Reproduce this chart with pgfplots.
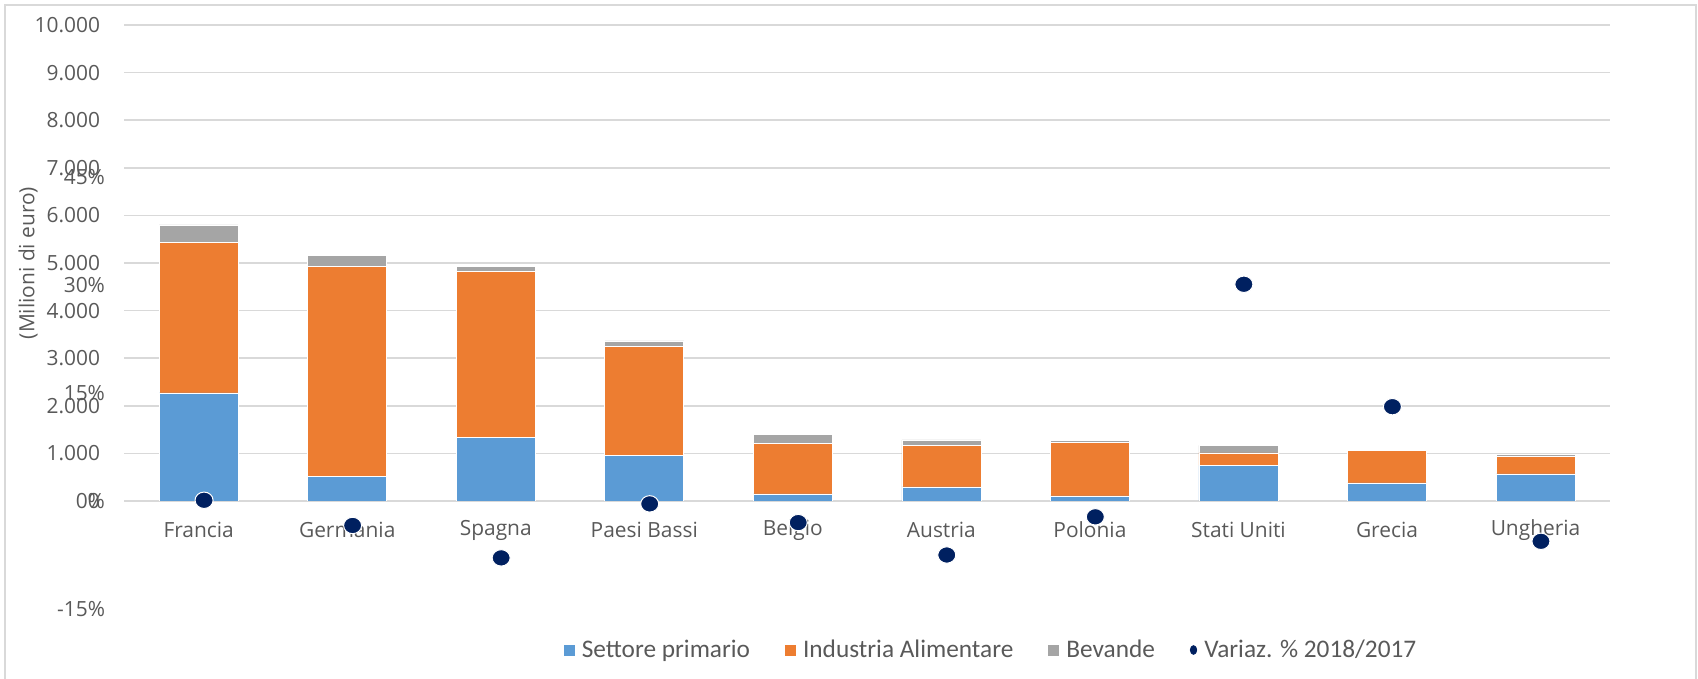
\documentclass[border=0pt]{standalone}
\usepackage{pgfplots}
\pgfplotsset{compat=1.18}
\usepackage{fontspec}
\setmainfont{Open Sans}
\newfontfamily\legfont{Carlito}

\definecolor{cBlue}{HTML}{5B9BD5}
\definecolor{cOrange}{HTML}{ED7D31}
\definecolor{cGray}{HTML}{A5A5A5}
\definecolor{cNavy}{HTML}{002060}
\definecolor{cGrid}{HTML}{D9D9D9}
\definecolor{cLabel}{HTML}{595959}
\definecolor{cFrame}{HTML}{D9D9D9}

% export values (millions of euro) by destination country
\pgfplotstableread{
x primario industria bevande
0 2270 3160 370
1  510 4425 222
2 1340 3490 105
3  965 2285 113
4  150 1060 190
5  295  865 125
6  105 1130  40
7  750  260 160
8  380  675  35
9  570  370  40
}\exportdata

% year-on-year change, percent
\pgfplotstableread{
x var
0   0.1
1  -3.4
2  -7.9
3  -0.4
4  -3.0
5  -7.5
6  -2.2
7  30.1
8  13.1
9  -5.6
}\vardata

\begin{document}
\begin{tikzpicture}
\useasboundingbox (0,0) rectangle (849bp,339.5bp);
\draw[cFrame, line width=1bp] (2.5bp,-2bp) -- (2.5bp,336.8bp) -- (847.8bp,336.8bp) -- (847.8bp,-2bp);

\begin{axis}[
  at={(62.2bp,89bp)}, anchor=south west,
  scale only axis, width=742.7bp, height=238bp,
  xmin=-0.5, xmax=9.5, ymin=0, ymax=10000,
  scaled y ticks=false,
  ybar stacked, bar width=39.5bp,
  axis line style={draw=none},
  tick style={draw=none},
  ymajorgrids, grid style={cGrid, line width=0.8bp},
  xtick={0,...,9},
  xticklabels={Francia,Germania,Spagna,Paesi Bassi,Belgio,Austria,Polonia,Stati Uniti,Grecia,Ungheria},
  ytick={0,1000,...,10000},
  yticklabels={0,1.000,2.000,3.000,4.000,5.000,6.000,7.000,8.000,9.000,10.000},
  xticklabel style={anchor=center, yshift=-14.5bp, font=\fontsize{10.5}{12}\selectfont, text=cLabel},
  yticklabel style={anchor=east, xshift=-8.7bp, font=\fontsize{10.5}{12}\selectfont, text=cLabel},
]
\addplot[fill=cBlue, draw=white, line width=0.3bp] table[x=x, y=primario] {\exportdata};
\addplot[fill=cOrange, draw=white, line width=0.3bp] table[x=x, y=industria] {\exportdata};
\addplot[fill=cGray, draw=white, line width=0.3bp] table[x=x, y=bevande] {\exportdata};
\end{axis}

\begin{axis}[
  at={(64.9bp,35bp)}, anchor=south west,
  scale only axis, width=742.7bp, height=292bp,
  xmin=-0.5, xmax=9.5, ymin=-15, ymax=66.11,
  axis line style={draw=none},
  tick style={draw=none},
  xtick=\empty,
  ytick={-15,0,15,30,45},
  yticklabels={-15\%,0\%,15\%,30\%,45\%},
  yticklabel style={anchor=east, xshift=-8.9bp, font=\fontsize{10.5}{12}\selectfont, text=cLabel},
  clip=false,
  legend columns=4,
  legend style={draw=none, fill=none, at={(0.5805,-0.0702)}, anchor=center,
    font=\legfont\fontsize{12.7}{14}\selectfont, text=cLabel,
    /tikz/every odd column/.append style={column sep=1.6bp},
    /tikz/every even column/.append style={column sep=15.5bp}},
  legend cell align=left,
]
\addlegendimage{legend image code/.code={\fill[cBlue] (0bp,-2.5bp) rectangle (5bp,2.5bp);}}
\addlegendentry{Settore primario}
\addlegendimage{legend image code/.code={\fill[cOrange] (0bp,-2.5bp) rectangle (5bp,2.5bp);}}
\addlegendentry{Industria Alimentare}
\addlegendimage{legend image code/.code={\fill[cGray] (0bp,-2.5bp) rectangle (5bp,2.5bp);}}
\addlegendentry{Bevande}
\addplot[only marks, mark=*, mark size=4.1bp,
  mark options={fill=cNavy, draw=white, line width=0.5bp, xscale=1.1},
  legend image code/.code={\fill[cNavy] (2.5bp,0bp) ellipse (1.6bp and 2.2bp);}]
  table[x=x, y=var] {\vardata};
\addlegendentry{Variaz. \% 2018/2017}
\end{axis}

\node[rotate=90, font=\fontsize{10.5}{12}\selectfont, text=cLabel] at (14bp,208bp) {(Milioni di euro)};
\end{tikzpicture}
\end{document}
